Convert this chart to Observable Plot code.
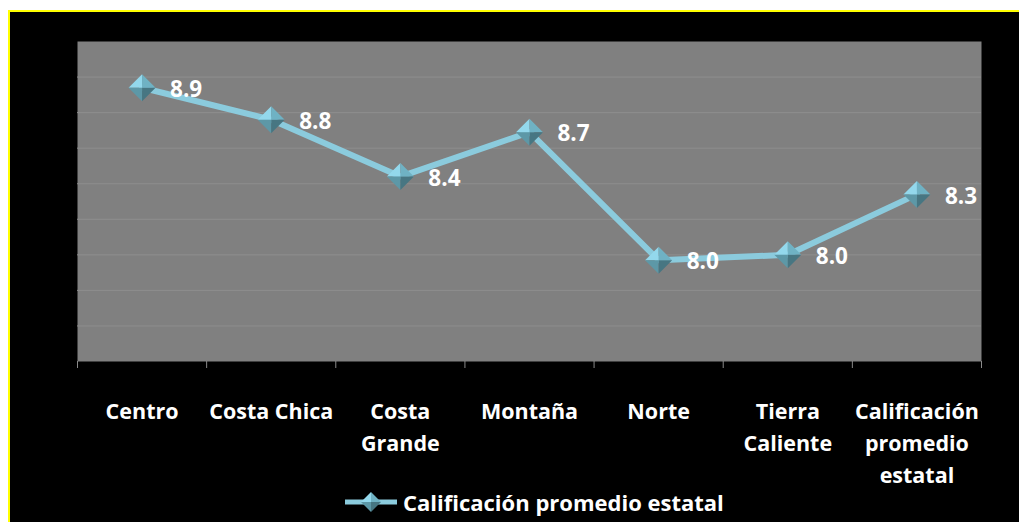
<!DOCTYPE html>
<html><head><meta charset="utf-8">
<script src="https://cdn.jsdelivr.net/npm/d3@7"></script>
<script src="https://cdn.jsdelivr.net/npm/@observablehq/plot@0.6"></script>
<style>
body{margin:0;background:#fff;width:1019px;height:522px;overflow:hidden;position:relative;font-family:"Open Sans",sans-serif}
#frame{position:absolute;left:8px;top:10px;width:1011px;height:512px;background:#000;border-left:2px solid #ffff00;border-top:2px solid #ffff00;box-sizing:border-box}
#chart{position:absolute;left:0;top:0}
#legend{position:absolute;left:325px;top:470px;height:40px;display:flex;align-items:center;color:#fff;font-weight:bold;font-size:22px;white-space:nowrap}
#legend svg{margin-right:6px}
</style></head><body>
<div id="frame"><div id="chart"></div><div id="legend"></div></div>
<script>
const categories = ["Centro","Costa Chica","Costa Grande","Montaña","Norte","Tierra Caliente","Calificación promedio estatal"];
const tickLabels = ["Centro","Costa Chica","Costa\nGrande","Montaña","Norte","Tierra\nCaliente","Calificación\npromedio\nestatal"];
const values = [8.94, 8.76, 8.44, 8.69, 7.97, 8.00, 8.34];
const yDomain = [7.4, 9.2];
const yGrid = [7.6, 7.8, 8.0, 8.2, 8.4, 8.6, 8.8, 9.0];
const seriesName = "Calificación promedio estatal";

const lineColor = "#8bcbdd";
const quadColors = {tl:"#93d8ec", tr:"#6fb2c4", bl:"#5d98a7", br:"#477682"};

const data = categories.map((c, i) => ({c, i, x: i + 0.5, v: values[i], label: tickLabels[i]}));
const quad = (sx, sy) => ({draw(ctx, size){ const h = Math.sqrt(size / Math.PI); ctx.moveTo(0, 0); ctx.lineTo(sx * h, 0); ctx.lineTo(0, sy * h); ctx.closePath(); }});
const dotOpts = (sx, sy, fill, r) => ({x: "x", y: "v", r, symbol: quad(sx, sy), fill, stroke: null});

const chart = Plot.plot({
  width: 1009, height: 490,
  marginLeft: 67, marginRight: 38, marginTop: 29, marginBottom: 141,
  style: {background: "transparent", fontFamily: "'Open Sans', sans-serif"},
  x: {domain: [0, categories.length], axis: null},
  y: {domain: yDomain, axis: null},
  marks: [
    Plot.frame({fill: "#808080", stroke: null}),
    Plot.gridY(yGrid, {stroke: "#8e8e8e", strokeOpacity: 1}),
    Plot.axisX(d3.range(categories.length + 1), {tickSize: 7, tickFormat: () => "", stroke: "#8a8a8a", label: null}),
    Plot.line(data, {x: "x", y: "v", stroke: lineColor, strokeWidth: 6}),
    Plot.dot(data, dotOpts(-1, -1, quadColors.tl, 13.5)),
    Plot.dot(data, dotOpts(1, -1, quadColors.tr, 13.5)),
    Plot.dot(data, dotOpts(-1, 1, quadColors.bl, 13.5)),
    Plot.dot(data, dotOpts(1, 1, quadColors.br, 13.5)),
    Plot.text(data, {x: "x", y: "v", text: d => d.v.toFixed(1), textAnchor: "start", dx: 28, dy: 2, fill: "#fff", fontWeight: "bold", fontSize: 22.5}),
    Plot.text(data, {x: "x", text: "label", frameAnchor: "bottom", lineAnchor: "top", dy: 35, lineHeight: 1.49, fill: "#fff", fontWeight: "bold", fontSize: 21.5})
  ]
});
document.getElementById("chart").append(chart);

const legend = document.getElementById("legend");
const h = 10, cx = 36, cy = 14;
legend.innerHTML = `<svg width="62" height="28">
<line x1="10" x2="62" y1="${cy}" y2="${cy}" stroke="${lineColor}" stroke-width="5"/>
<path d="M${cx},${cy}L${cx-h},${cy}L${cx},${cy-h}Z" fill="${quadColors.tl}"/>
<path d="M${cx},${cy}L${cx+h},${cy}L${cx},${cy-h}Z" fill="${quadColors.tr}"/>
<path d="M${cx},${cy}L${cx-h},${cy}L${cx},${cy+h}Z" fill="${quadColors.bl}"/>
<path d="M${cx},${cy}L${cx+h},${cy}L${cx},${cy+h}Z" fill="${quadColors.br}"/>
</svg><span>${seriesName}</span>`;
</script>
</body></html>
